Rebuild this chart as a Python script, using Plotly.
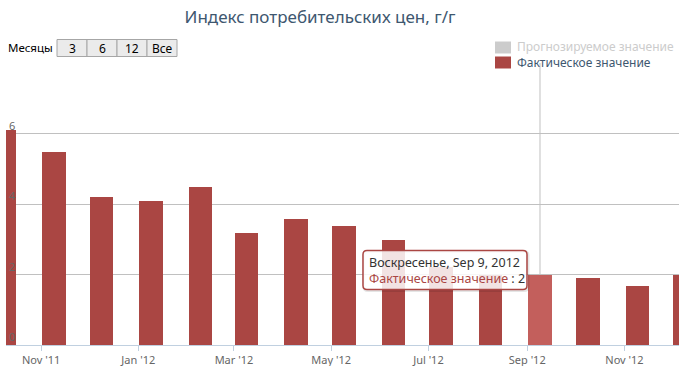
import plotly.graph_objects as go

# ---------------- data ----------------
dates = ["2011-10-09", "2011-11-09", "2011-12-09", "2012-01-09", "2012-02-09",
         "2012-03-09", "2012-04-09", "2012-05-09", "2012-06-09", "2012-07-09",
         "2012-08-09", "2012-09-09", "2012-10-09", "2012-11-09", "2012-12-09"]
values = [6.11, 5.48, 4.20, 4.09, 4.49, 3.18, 3.58, 3.38, 2.98, 2.20,
          2.00, 2.00, 1.90, 1.68, 2.00]
series_actual = "Фактическое значение"
series_forecast = "Прогнозируемое значение"
title_text = "Индекс потребительских цен, г/г"
range_label = "Месяцы"
range_buttons = ["3", "6", "12", "Все"]
y_ticks = [0, 2, 4, 6, 8]
y_ticktext = ["0", "2", "4", "6", ""]
hover_idx = 11
tooltip_date = "Воскресенье, Sep 9, 2012"

# ---------------- style ----------------
W, H = 679, 366
ML, MR, MT, MB = 6, 0, 63, 21
PW, PH = W - ML - MR, H - MT - MB
FONT = "Lucida Grande, Noto Sans, DejaVu Sans, sans-serif"
RED = "#AA4643"
RED_HOVER = "#C35F5C"
DAY_MS = 86400000


def px(x):
    return (x - ML) / PW


def py(y):
    return (H - MB - y) / PH


colors = [RED_HOVER if i == hover_idx else RED for i in range(len(values))]

fig = go.Figure()
fig.add_trace(go.Bar(
    x=dates, y=values, name=series_actual,
    width=14.7 * DAY_MS,
    marker=dict(color=colors, line=dict(width=0)),
    hoverinfo="skip", showlegend=False,
))

shapes = []
annotations = []

# crosshair behind bars
shapes.append(dict(type="line", xref="x", yref="paper",
                   x0=dates[hover_idx], x1=dates[hover_idx], y0=0, y1=1,
                   line=dict(color="#C0C0C0", width=1), layer="below"))

# y-axis labels drawn inside the plot, above the bars
for v, t in zip(y_ticks, y_ticktext):
    if t:
        annotations.append(dict(xref="paper", yref="y", x=px(7), y=v,
                                xanchor="left", yanchor="bottom", yshift=-1,
                                showarrow=False, text=t,
                                font=dict(family=FONT, size=11, color="#666")))

# range selector (drawn)
annotations.append(dict(xref="paper", yref="paper", x=px(6), y=py(47.5),
                        xanchor="left", yanchor="middle", showarrow=False,
                        text=range_label, font=dict(family=FONT, size=11.5, color="#000")))
bx = 57
for lab in range_buttons:
    shapes.append(dict(type="rect", xref="paper", yref="paper",
                       x0=px(bx), x1=px(bx + 30), y0=py(56.5), y1=py(39.5),
                       fillcolor="#EBEBEB", line=dict(color="#A6A6A6", width=1),
                       layer="above"))
    annotations.append(dict(xref="paper", yref="paper", x=px(bx + 15), y=py(48),
                            xanchor="center", yanchor="middle", showarrow=False,
                            text=lab, font=dict(family=FONT, size=12, color="#000")))
    bx += 30

# legend (drawn)
leg = [(series_forecast, "#CCCCCC", "#CCCCCC", 47.5),
       (series_actual, RED, "#3E576F", 62.5)]
for name, sym, tcol, yc in leg:
    shapes.append(dict(type="rect", xref="paper", yref="paper",
                       x0=px(495), x1=px(511), y0=py(yc + 6), y1=py(yc - 6),
                       fillcolor=sym, line=dict(width=0), layer="above"))
leg_text = "<br>".join(f"<span style='color:{tcol}'>{name}</span>"
                       for name, _, tcol, _ in leg)
annotations.append(dict(xref="paper", yref="paper", x=px(515), y=py(55),
                        xanchor="left", yanchor="middle", showarrow=False,
                        align="left", text=leg_text,
                        font=dict(family=FONT, size=12, color="#3E576F")))


def rounded(x0, x1, ytop, ybot, r=4):
    # pixel offsets; y positive up
    return (f"M{x0 + r},{ytop} L{x1 - r},{ytop} Q{x1},{ytop} {x1},{ytop - r} "
            f"L{x1},{ybot + r} Q{x1},{ybot} {x1 - r},{ybot} "
            f"L{x0 + r},{ybot} Q{x0},{ybot} {x0},{ybot + r} "
            f"L{x0},{ytop - r} Q{x0},{ytop} {x0 + r},{ytop} Z")


# tooltip anchored on the hovered point
tx0, tx1, ttop, tbot = -177, -13, 24, -15
shapes.append(dict(type="path", xref="x", yref="y",
                   xsizemode="pixel", ysizemode="pixel",
                   xanchor=dates[hover_idx], yanchor=values[hover_idx],
                   path=rounded(tx0 + 1, tx1 + 1, ttop - 1, tbot - 1),
                   line=dict(color="rgba(0,0,0,0.10)", width=3), layer="above"))
shapes.append(dict(type="path", xref="x", yref="y",
                   xsizemode="pixel", ysizemode="pixel",
                   xanchor=dates[hover_idx], yanchor=values[hover_idx],
                   path=rounded(tx0, tx1, ttop, tbot),
                   fillcolor="rgba(255,255,255,0.85)",
                   line=dict(color=RED, width=1.5), layer="above"))
tip = (f"{tooltip_date}<br><span style='color:{RED}'>{series_actual}</span>"
       f" : {values[hover_idx]:g}")
annotations.append(dict(xref="x", yref="y", x=dates[hover_idx], y=values[hover_idx],
                        xanchor="left", yanchor="middle", showarrow=False,
                        xshift=tx0 + 4, yshift=(ttop + tbot) / 2,
                        align="left", text=tip,
                        font=dict(family=FONT, size=12.5, color="#333")))

fig.update_layout(
    width=W, height=H,
    margin=dict(l=ML, r=MR, t=MT, b=MB, pad=0),
    paper_bgcolor="white", plot_bgcolor="white",
    font=dict(family=FONT),
    title=dict(text=title_text, x=320 / W, xanchor="center",
               y=1 - 17.5 / H, yanchor="middle",
               font=dict(family=FONT, size=17, color="#3E576F")),
    showlegend=False,
    bargap=0,
    hovermode=False,
    shapes=shapes,
    annotations=annotations,
    xaxis=dict(type="date", range=["2011-10-10", "2012-12-05 05:00"],
               tick0="2011-11-01", dtick="M2", tickformat="%b '%y",
               ticks="outside", ticklen=5, tickcolor="#C0D0E0",
               showline=True, linecolor="#C0D0E0", linewidth=1,
               showgrid=False, zeroline=False,
               tickfont=dict(family=FONT, size=11, color="#666")),
    yaxis=dict(range=[0, 8], tickvals=y_ticks, ticktext=y_ticktext,
               showticklabels=False,
               showgrid=True, gridcolor="#C0C0C0", gridwidth=1,
               zeroline=False, showline=False, ticks=""),
)

fig.write_html("out.html")
